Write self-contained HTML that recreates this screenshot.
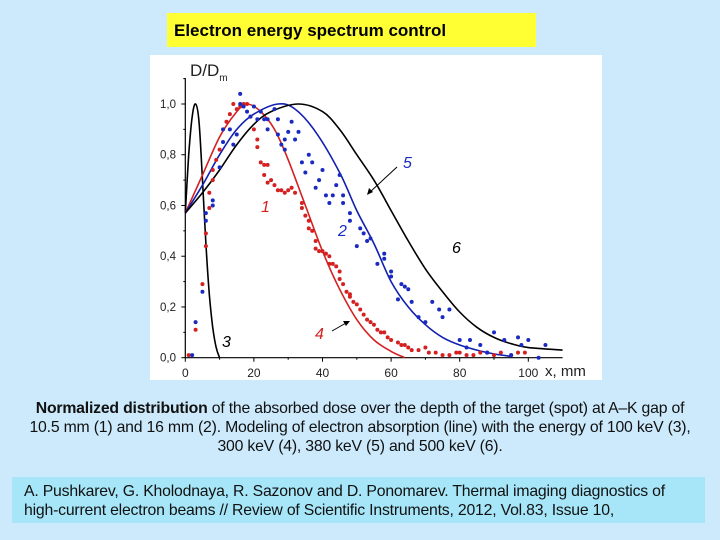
<!DOCTYPE html>
<html><head><meta charset="utf-8"><style>
body{margin:0;width:720px;height:540px;background:#cceafc;position:relative;overflow:hidden;font-family:"Liberation Sans",sans-serif}
#title{position:absolute;left:167px;top:13px;width:369px;height:34px;background:#ffff33;font-weight:bold;font-size:17px;line-height:36px;padding-left:7px;box-sizing:border-box;color:#000}
#panel{position:absolute;left:150px;top:55px;width:452px;height:325px;background:#fff}
#cap{position:absolute;left:-20px;top:399px;width:760px;text-align:center;font-size:15.8px;line-height:19px;color:#111;letter-spacing:-0.2px}
#cite{position:absolute;left:12px;top:477px;width:693px;height:46px;background:#a6e6f8;font-size:15.8px;line-height:19px;padding:5px 0 0 12px;box-sizing:border-box;color:#111;letter-spacing:-0.2px;white-space:nowrap}
</style></head><body>
<div id="title">Electron energy spectrum control</div>
<div id="panel"><svg id="svg" width="452" height="325"></svg></div>
<div id="cap"><b>Normalized distribution</b> of the absorbed dose over the depth of the target (spot) at A–K gap of<br>10.5 mm (1) and 16 mm (2). Modeling of electron absorption (line) with the energy of 100 keV (3),<br>300 keV (4), 380 keV (5) and 500 keV (6).</div>
<div id="cite">A. Pushkarev, G. Kholodnaya, R. Sazonov and D. Ponomarev. Thermal imaging diagnostics of<br>high-current electron beams // Review of Scientific Instruments, 2012, Vol.83, Issue 10,</div>
<script>
const xTicks=[0,20,40,60,80,100];
const yTicks=[0,0.2,0.4,0.6,0.8,1.0];
const yTickLabels=["0,0","0,2","0,4","0,6","0,8","1,0"];
const c3x=[0,1,2,3,4,5,6,7,8,9,10];
const c3y=[0.57,0.8,0.95,1.0,0.93,0.7,0.45,0.25,0.12,0.04,0];
const c4x=[0,5,10,15,18,22,26,30,35,40,45,50,55,60,64];
const c4y=[0.57,0.72,0.87,0.97,1.0,0.97,0.9,0.78,0.6,0.42,0.27,0.15,0.07,0.025,0];
const c5x=[0,5,10,15,20,27,32,38,45,50,55,60,65,70,75,80,85,90,95];
const c5y=[0.57,0.68,0.8,0.9,0.96,1.0,0.98,0.89,0.73,0.58,0.45,0.3,0.2,0.13,0.08,0.05,0.03,0.015,0.005];
const c6x=[0,5,10,15,20,25,33,40,45,50,55,60,65,70,75,80,85,90,95,100,110];
const c6y=[0.57,0.65,0.74,0.84,0.92,0.97,1.0,0.97,0.9,0.8,0.7,0.58,0.46,0.35,0.26,0.18,0.12,0.08,0.055,0.04,0.03];
const redX=[1,3,5,6,6,7,7,8,8,9,10,12,13,14,15,16,17,18,19,20,21,21,22,23,24,23,24,25,26,27,28,29,30,31,32,34,34,35,36,36,37,38,38,39,40,41,42,42,43,44,45,45,46,47,48,48,49,50,51,52,53,54,55,56,57,58,59,60,62,63,64,65,66,68,70,71,73,75,77,79,80,82,84,86,88,90,92,95,97,99];
const redY=[0.01,0.11,0.29,0.44,0.49,0.59,0.65,0.7,0.74,0.78,0.82,0.93,0.96,1.0,0.98,0.99,1.0,1.0,0.95,0.9,0.86,0.83,0.77,0.76,0.76,0.72,0.69,0.7,0.68,0.66,0.66,0.65,0.66,0.67,0.65,0.61,0.59,0.56,0.54,0.51,0.5,0.46,0.43,0.42,0.42,0.41,0.4,0.37,0.37,0.36,0.34,0.31,0.29,0.26,0.25,0.24,0.22,0.21,0.19,0.17,0.15,0.14,0.13,0.11,0.1,0.1,0.08,0.07,0.06,0.05,0.05,0.04,0.03,0.03,0.04,0.02,0.02,0.01,0.01,0.02,0.02,0.01,0.01,0.02,0.02,0.01,0.02,0.01,0.02,0.02];
const blueX=[2,3,5,6,6,8,8,10,11,11,13,14,15,16,16,17,18,19,20,21,22,23,24,24,26,27,27,28,29,29,30,31,32,33,34,35,36,37,38,39,40,41,42,43,44,45,46,46,48,48,50,51,52,53,54,56,58,58,60,60,62,63,64,65,66,68,70,72,74,75,77,80,82,83,86,88,90,93,95,97,98,100,103,105];
const blueY=[0.01,0.14,0.26,0.54,0.57,0.6,0.62,0.75,0.85,0.9,0.9,0.84,0.88,1.0,1.04,0.99,0.97,0.95,0.99,0.94,0.97,0.94,0.94,0.9,0.98,0.94,0.88,0.84,0.86,0.82,0.89,0.93,0.86,0.89,0.77,0.73,0.8,0.77,0.67,0.7,0.74,0.64,0.61,0.64,0.68,0.72,0.61,0.64,0.57,0.54,0.44,0.51,0.49,0.46,0.47,0.37,0.41,0.39,0.34,0.32,0.23,0.29,0.28,0.27,0.22,0.16,0.14,0.22,0.19,0.16,0.19,0.07,0.04,0.07,0.05,0.02,0.1,0.07,0.01,0.08,0.05,0.07,0.0,0.05];

const svg=document.getElementById('svg');const NS='http://www.w3.org/2000/svg';
const X=v=>35.3+v*3.43, Y=v=>302.7-v*253.7;
function mk(t,a){const e=document.createElementNS(NS,t);for(const k in a)e.setAttribute(k,a[k]);svg.appendChild(e);return e;}
let e;
e=mk('line',{x1:X(0),y1:Y(0),x2:X(110),y2:Y(0),stroke:'#000','stroke-width':1.2});


e=mk('line',{x1:X(0),y1:Y(0),x2:X(0),y2:23,stroke:'#000','stroke-width':1.2});


xTicks.forEach(t=>{mk('line',{x1:X(t),y1:Y(0),x2:X(t),y2:Y(0)+4,stroke:'#000'});
 if(t<100){mk('line',{x1:X(t+10),y1:Y(0),x2:X(t+10),y2:Y(0)+2,stroke:'#000'});}
 e=mk('text',{x:X(t),y:322,'font-size':12,'text-anchor':'middle',fill:'#222'});e.textContent=t;
 
 });
yTicks.forEach((t,i)=>{mk('line',{x1:X(0)-4,y1:Y(t),x2:X(0),y2:Y(t),stroke:'#000'});
 mk('line',{x1:X(0)-2,y1:Y(t+0.1),x2:X(0),y2:Y(t+0.1),stroke:'#000'});
 e=mk('text',{x:26,y:Y(t)+4,'font-size':11.5,'text-anchor':'end',fill:'#222'});e.textContent=yTickLabels[i];
 
 });
e=mk('text',{x:40,y:21,'font-size':17,fill:'#222'});e.innerHTML='D/D<tspan font-size="10" dy="5">m</tspan>';


e=mk('text',{x:395,y:321,'font-size':15,fill:'#222'});e.textContent='x, mm';


function line(xs,ys,c,n){
 const P=xs.map((v,i)=>[X(v),Y(ys[i])]);
 let d='M'+P[0][0].toFixed(1)+','+P[0][1].toFixed(1);
 for(let i=0;i<P.length-1;i++){const p0=P[Math.max(0,i-1)],p1=P[i],p2=P[i+1],p3=P[Math.min(P.length-1,i+2)];
  const c1=[p1[0]+(p2[0]-p0[0])/6,p1[1]+(p2[1]-p0[1])/6],c2=[p2[0]-(p3[0]-p1[0])/6,p2[1]-(p3[1]-p1[1])/6];
  d+='C'+c1.map(v=>v.toFixed(1)).join(',')+' '+c2.map(v=>v.toFixed(1)).join(',')+' '+p2.map(v=>v.toFixed(1)).join(',');}
 const p=mk('path',{d:d,fill:'none',stroke:c,'stroke-width':1.6,'stroke-linejoin':'round'});
 
 }
line(c3x,c3y,'#000','curve-3');line(c4x,c4y,'#d42020','curve-4');line(c5x,c5y,'#1020b0','curve-5');line(c6x,c6y,'#000','curve-6');
function pts(xs,ys,c,n){xs.forEach((v,i)=>{const p=mk('circle',{cx:X(v),cy:Y(ys[i]),r:2,fill:c});
 
 });}
pts(redX,redY,'#d42020','series-1-point');pts(blueX,blueY,'#1a2ac0','series-2-point');
const labs=[['1',111,157,'#d42020'],['2',188,181,'#1a2ac0'],['3',72,292,'#000'],['4',165,284,'#d42020'],['5',253,113,'#1a2ac0'],['6',302,198,'#000']];
labs.forEach(l=>{e=mk('text',{x:l[1],y:l[2],'font-size':16,'font-style':'italic',fill:l[3]});e.textContent=l[0];
 
 });
mk('line',{x1:247,y1:112,x2:220,y2:137,stroke:'#000'});mk('path',{d:'M217,140 l2,-7 l4,4z',fill:'#000'});
mk('line',{x1:182,y1:276,x2:196,y2:268,stroke:'#000'});mk('path',{d:'M200,266 l-7,0 l3,5z',fill:'#000'});
</script>
</body></html>
